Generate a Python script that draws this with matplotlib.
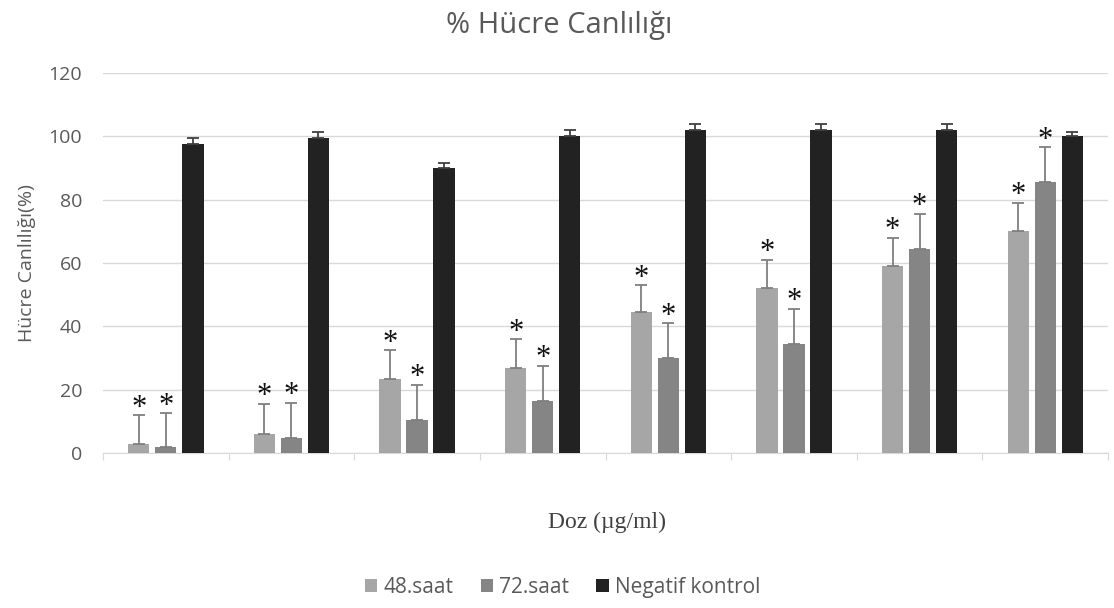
import numpy as np
import matplotlib.pyplot as plt

# hücre canlılığı (%) ve standart sapmalar, 8 doz
saat48 = [3, 6, 23.5, 27, 44.5, 52, 59, 70]
saat48_err = [9, 9.5, 9, 9, 8.5, 9, 9, 9]
saat72 = [2, 4.8, 10.5, 16.5, 30, 34.5, 64.5, 85.5]
saat72_err = [10.5, 11, 11, 11, 11, 11, 11, 11]
negatif = [97.5, 99.5, 90, 100, 102, 102, 102, 100]
negatif_err = [2, 2, 1.5, 2, 2, 2, 2, 1.5]

seriler = ["48.saat", "72.saat", "Negatif kontrol"]
renkler = ["#a6a6a6", "#858585", "#222222"]
hata_renk = ["#7f7f7f", "#7f7f7f", "#404040"]

fig = plt.figure(figsize=(11.14, 6.08), dpi=100)
ax = fig.add_axes([103 / 1114, 155 / 608, 1005 / 1114, 380 / 608])

x = np.arange(len(saat48))
w = 0.17
off = 0.215
veriler = [(saat48, saat48_err), (saat72, saat72_err), (negatif, negatif_err)]
for k, (vals, errs) in enumerate(veriler):
    pos = x + (k - 1) * off
    ax.bar(pos, vals, width=w, color=renkler[k], label=seriler[k], zorder=3)
    ax.errorbar(pos, vals, yerr=[np.zeros(len(vals)), errs], fmt="none",
                ecolor=hata_renk[k], elinewidth=1.3, capsize=4, capthick=1.3, zorder=4)
    # yıldızlar: kontrole göre anlamlı fark
    if k < 2:
        for p, v, e in zip(pos, vals, errs):
            ax.text(p, v + e + 2.2, "*", ha="center", va="center", fontsize=22,
                    family="Liberation Serif", color="#111111", zorder=5)

ax.set_xlim(-0.5, len(x) - 0.5)
ax.set_ylim(0, 120)
ax.set_yticks(range(0, 121, 20))
ax.yaxis.grid(True, color="#d9d9d9", lw=1, zorder=0)
ax.set_axisbelow(True)
for s in ["top", "right", "left"]:
    ax.spines[s].set_visible(False)
ax.spines["bottom"].set_color("#d9d9d9")
ax.set_xticks(np.arange(len(x) + 1) - 0.5)
ax.set_xticklabels([])
ax.tick_params(axis="x", length=5, color="#d9d9d9")
ax.tick_params(axis="y", length=0, labelsize=14, labelcolor="#595959", pad=15)
for t in ax.get_yticklabels():
    t.set_family("Open Sans")

fig.text(0.024, 0.567, "Hücre Canlılığı(%)", rotation=90, ha="center", va="center",
         fontsize=14, color="#595959", family="Open Sans")
fig.text(0.545, 0.14, "Doz (µg/ml)", ha="center", va="center",
         fontsize=17, color="#404040", family="Liberation Serif")
fig.text(0.502, 0.946, "% Hücre Canlılığı", ha="center", va="baseline",
         fontsize=21, color="#595959", family="Open Sans")

fig.legend(loc="center", bbox_to_anchor=(0.505, 0.034), ncol=3, frameon=False,
           handlelength=0.6, handleheight=0.6, handletextpad=0.3, columnspacing=1.3,
           prop={"family": "Open Sans", "size": 15}, labelcolor="#595959")

fig.savefig("out.png", dpi=100)
